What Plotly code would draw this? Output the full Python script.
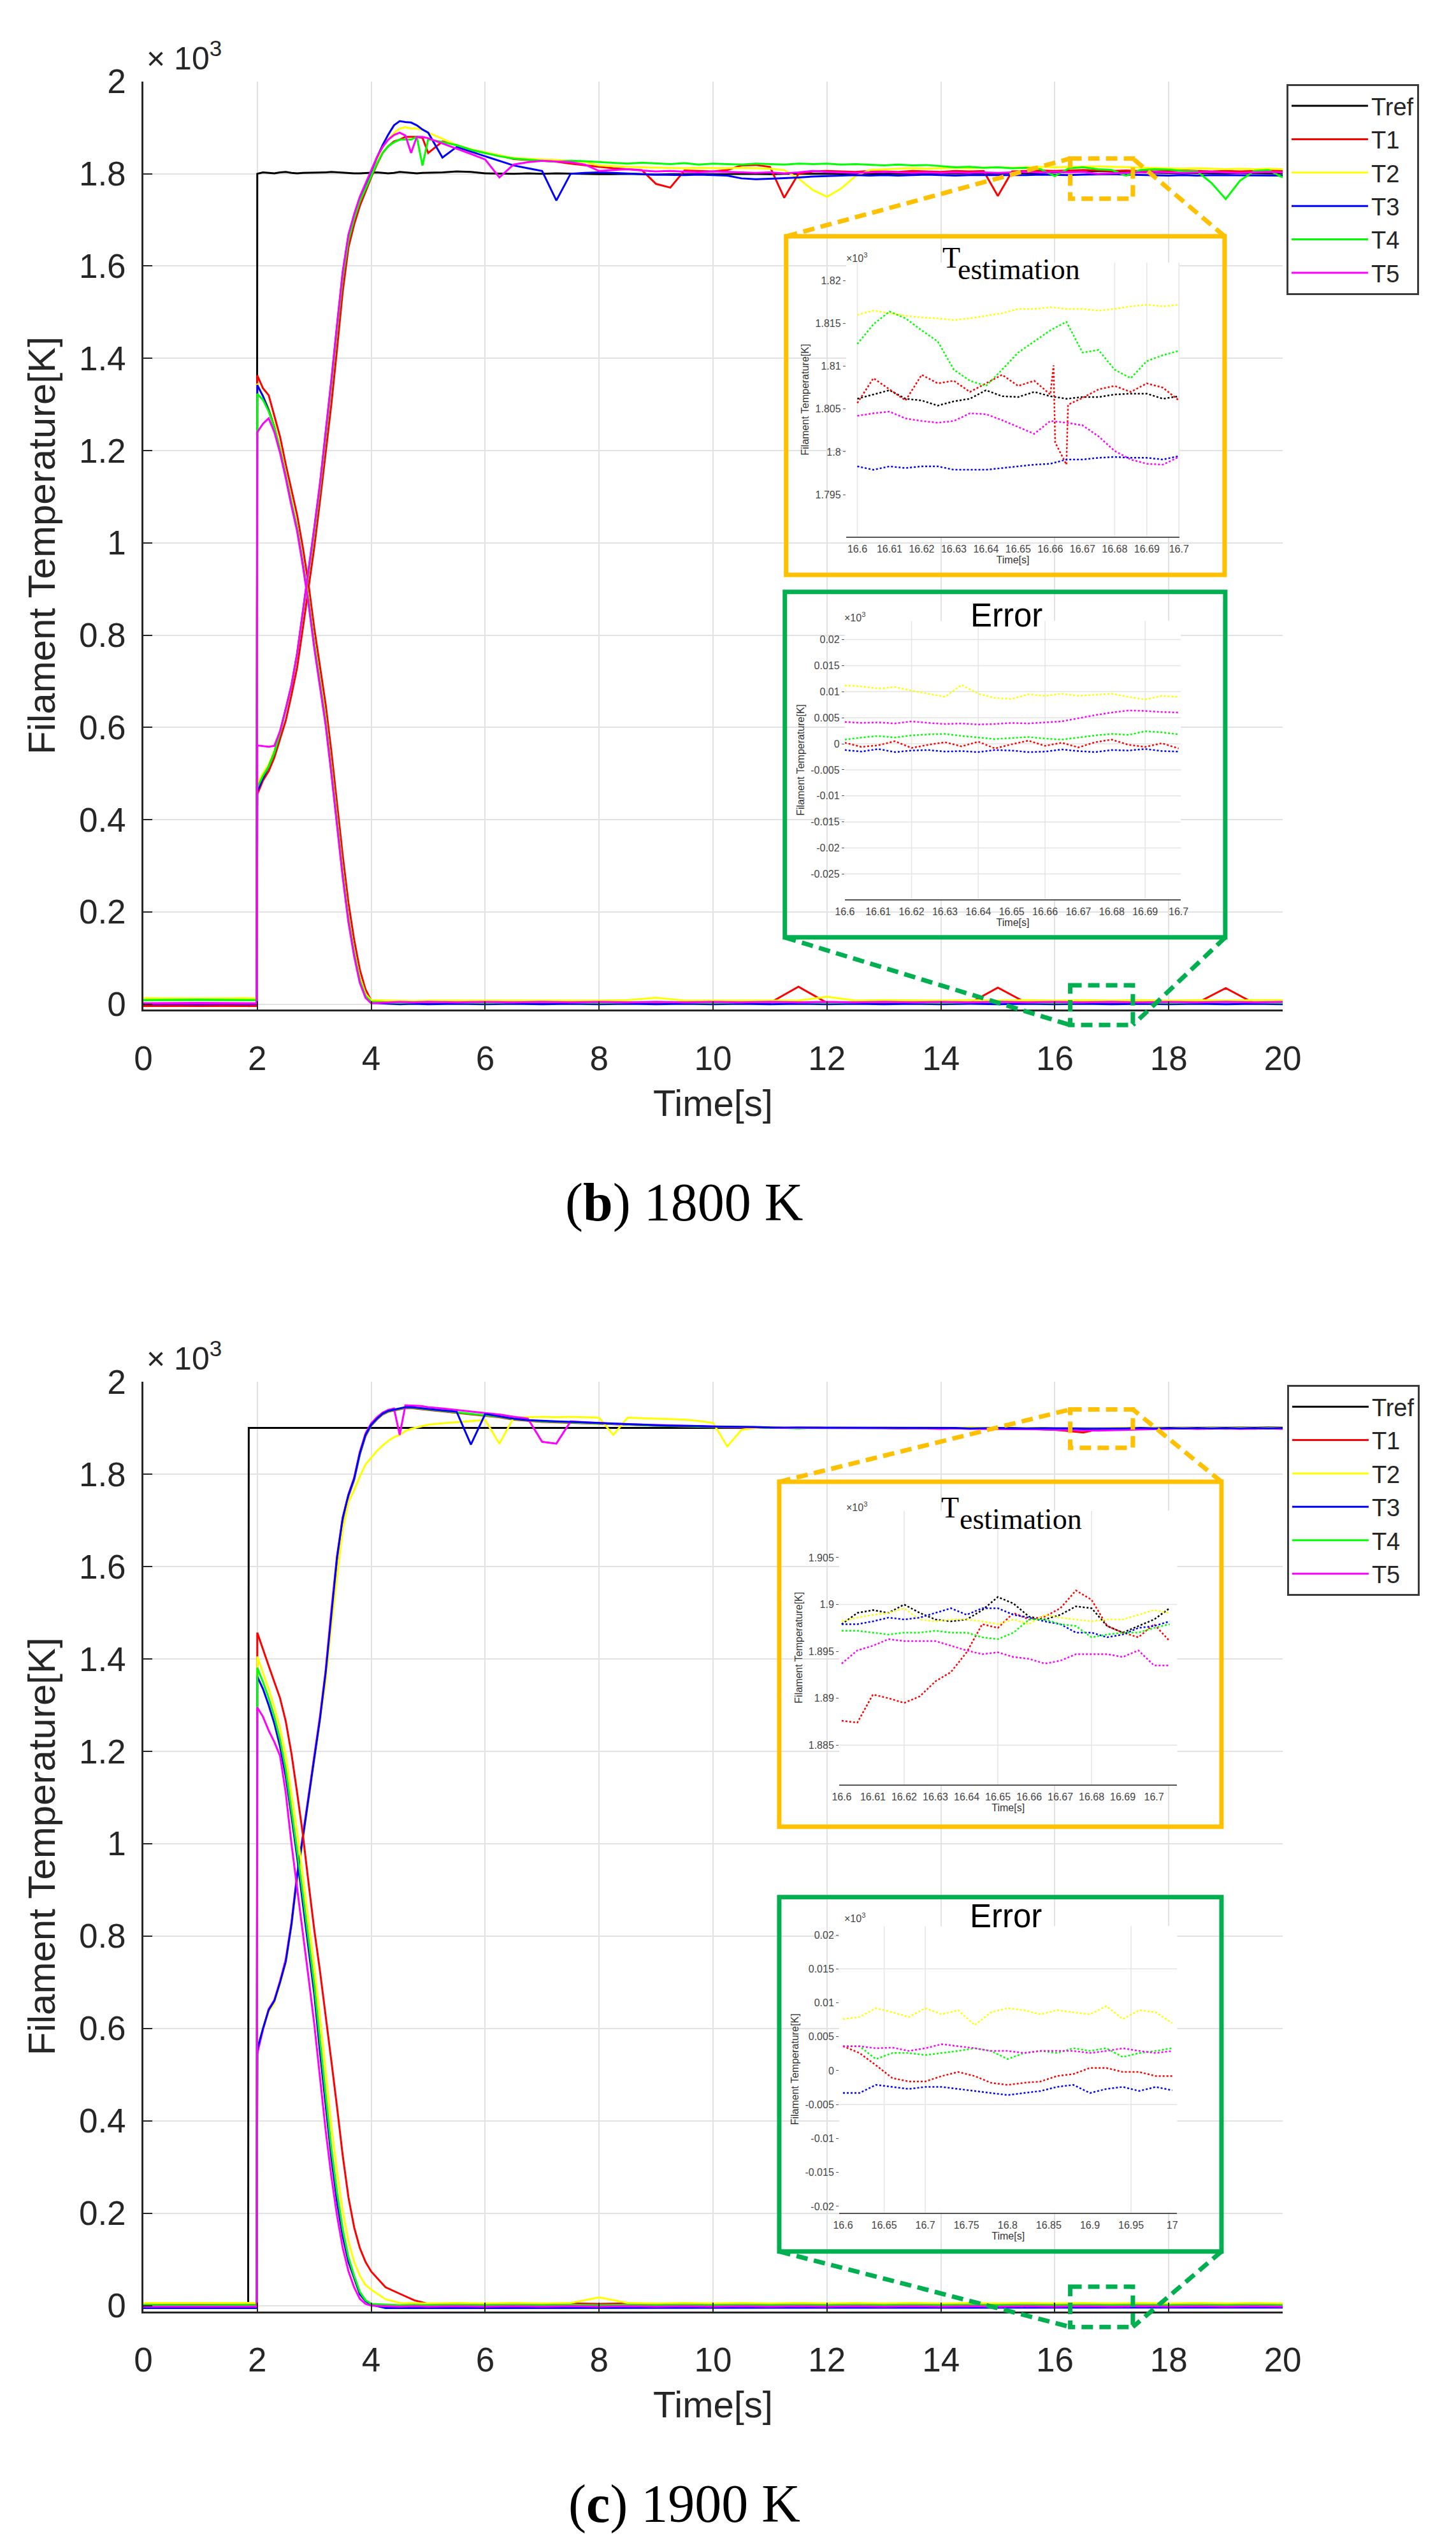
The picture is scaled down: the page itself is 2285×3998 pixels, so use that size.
import plotly.graph_objects as go

W, H = 2285, 3998

# ---------------------------------------------------------------- data
# main time axis [s]
t_main = [0, 1.0, 1.84, 1.85, 1.99,
          2.0, 2.1, 2.2, 2.3, 2.4, 2.5, 2.6, 2.7, 2.8, 2.9,
          3.0, 3.1, 3.2, 3.3, 3.4, 3.5, 3.6, 3.7, 3.8, 3.9,
          4.0, 4.1, 4.2, 4.3, 4.4, 4.5, 4.6, 4.7, 4.8, 4.9, 5.0,
          5.25, 5.5, 5.75, 6.0, 6.25, 6.5, 6.75, 7.0, 7.25, 7.5, 7.75, 8.0,
          8.25, 8.5, 8.75, 9.0, 9.25, 9.5, 9.75, 10.0, 10.25, 10.5, 10.75, 11.0,
          11.25, 11.5, 11.75, 12.0, 12.25, 12.5, 12.75, 13.0, 13.25, 13.5, 13.75, 14.0,
          14.25, 14.5, 14.75, 15.0, 15.25, 15.5, 15.75, 16.0, 16.25, 16.5, 16.75, 17.0,
          17.25, 17.5, 17.75, 18.0, 18.25, 18.5, 18.75, 19.0, 19.25, 19.5, 19.75, 20.0]

# time axis of the error curves [s]
t_err = [0, 1.0, 1.84, 1.85, 1.99,
         2.0, 2.1, 2.2, 2.3, 2.4, 2.5, 2.6, 2.7, 2.8, 2.9,
         3.0, 3.1, 3.2, 3.3, 3.4, 3.5, 3.6, 3.7, 3.8, 3.9,
         4.0, 4.25, 4.5, 4.75, 5.0,
         5.5, 6.0, 6.5, 7.0, 7.5, 8.0, 8.5, 9.0, 9.5, 10.0,
         10.5, 11.0, 11.5, 12.0, 12.5, 13.0, 13.5, 14.0, 14.5, 15.0,
         15.5, 16.0, 16.5, 17.0, 17.5, 18.0, 18.5, 19.0, 19.5, 20.0]

# (b) 1800 K, temperatures [K]
b_tref = [0, 0, 0, 0, 0,
          1800, 1803, 1802, 1801, 1803, 1804, 1802, 1801, 1802, 1802,
          1803, 1802, 1803, 1804, 1803, 1803, 1802, 1801, 1801, 1802,
          1802, 1803, 1802, 1801, 1802, 1804, 1803, 1802, 1801, 1802, 1802,
          1803, 1805, 1804, 1801, 1800, 1800, 1801, 1800, 1801, 1800, 1800, 1799,
          1799, 1800, 1799, 1798, 1799, 1799, 1798, 1798, 1799, 1800, 1799, 1799,
          1800, 1800, 1799, 1799, 1800, 1801, 1800, 1800, 1801, 1800, 1800, 1801,
          1801, 1800, 1801, 1801, 1802, 1801, 1802, 1803, 1804, 1805, 1806, 1805,
          1804, 1803, 1802, 1802, 1801, 1802, 1801, 1801, 1802, 1801, 1801, 1801]
b_t1 = [-4, -3, -4, -4, -4,
        455, 485, 505, 535, 575, 615, 670, 730, 815, 905,
        990, 1090, 1195, 1300, 1420, 1545, 1640, 1690, 1730, 1762,
        1792, 1820, 1845, 1860, 1870, 1874, 1880, 1880, 1880, 1878, 1845,
        1870, 1862, 1852, 1845, 1840, 1832, 1830, 1828, 1826, 1822, 1818, 1815,
        1812, 1810, 1808, 1778, 1770, 1807, 1806, 1805, 1808, 1818, 1819, 1815,
        1748, 1800, 1805, 1806, 1805, 1804, 1806, 1805, 1804, 1806, 1805, 1804,
        1806, 1805, 1806, 1752, 1805, 1806, 1807, 1806, 1807, 1808, 1807, 1806,
        1807, 1806, 1805, 1806, 1807, 1806, 1805, 1806, 1805, 1806, 1807, 1806]
b_t2 = [13, 12, 13, 12, 13,
        479, 500, 520, 550, 592, 640, 692, 760, 848, 932,
        1025, 1120, 1230, 1345, 1465, 1580, 1660, 1706, 1745, 1773,
        1802, 1832, 1857, 1875, 1888, 1898, 1901, 1898, 1898, 1895, 1889,
        1876, 1862, 1853, 1846, 1840, 1834, 1832, 1831, 1830, 1828, 1825, 1818,
        1816, 1815, 1814, 1813, 1813, 1812, 1813, 1812, 1812, 1813, 1812, 1811,
        1808, 1790, 1765, 1750, 1768, 1795, 1808, 1810, 1811, 1812, 1811, 1812,
        1813, 1812, 1813, 1814, 1813, 1814, 1815, 1814, 1815, 1816, 1816, 1815,
        1814, 1813, 1812, 1812, 1811, 1812, 1811, 1810, 1811, 1810, 1811, 1810]
b_t3 = [1, 0, 1, 0, 1,
        461, 490, 515, 545, 590, 640, 690, 760, 850, 935,
        1030, 1125, 1235, 1350, 1470, 1585, 1665, 1710, 1748, 1775,
        1805, 1835, 1862, 1885, 1905, 1914, 1912, 1911, 1905, 1896, 1889,
        1835, 1858, 1848, 1837, 1828, 1818, 1812, 1806, 1742, 1800, 1802, 1803,
        1802, 1800, 1799, 1798, 1797, 1797, 1798, 1797, 1796, 1790, 1788, 1789,
        1790, 1792, 1794, 1795, 1796, 1797, 1796, 1797, 1796, 1797, 1798, 1797,
        1796, 1797, 1797, 1796, 1797, 1797, 1798, 1797, 1797, 1798, 1799, 1799,
        1798, 1797, 1797, 1796, 1797, 1796, 1797, 1797, 1796, 1797, 1797, 1796]
b_t4 = [9, 10, 9, 9, 9,
        470, 495, 515, 545, 588, 638, 690, 758, 845, 930,
        1022, 1118, 1228, 1340, 1460, 1575, 1655, 1702, 1740, 1768,
        1795, 1822, 1845, 1860, 1868, 1874, 1874, 1874, 1880, 1818, 1875,
        1868, 1862, 1852, 1845, 1838, 1833, 1830, 1828, 1826, 1828, 1827, 1825,
        1823, 1822, 1824, 1822, 1821, 1823, 1820, 1822, 1821, 1820, 1822, 1821,
        1820, 1822, 1821, 1822, 1820, 1821, 1819, 1818, 1820, 1818, 1819, 1817,
        1814, 1815, 1813, 1814, 1812, 1813, 1810, 1795, 1812, 1814, 1810, 1808,
        1796, 1808, 1810, 1809, 1806, 1805, 1780, 1745, 1785, 1806, 1808, 1792]
b_t5 = [2, 3, 2, 2, 2,
        561, 560, 558, 560, 592, 640, 692, 760, 850, 938,
        1032, 1128, 1238, 1352, 1472, 1588, 1668, 1712, 1750, 1778,
        1808, 1836, 1858, 1874, 1884, 1889, 1883, 1845, 1880, 1880, 1877,
        1866, 1855, 1843, 1831, 1792, 1820, 1825, 1828, 1826, 1825, 1820, 1806,
        1808, 1810, 1807, 1805, 1806, 1804, 1803, 1805, 1804, 1803, 1802, 1803,
        1801, 1803, 1806, 1804, 1803, 1802, 1803, 1804, 1803, 1802, 1803, 1802,
        1803, 1802, 1803, 1802, 1803, 1804, 1803, 1804, 1803, 1804, 1800, 1801,
        1802, 1803, 1804, 1803, 1802, 1803, 1804, 1803, 1802, 1803, 1804, 1803]

# (b) 1800 K, errors [K]
b_e1 = [-3, -4, -3, -4, -3,
        1363, 1335, 1320, 1275, 1230, 1170, 1115, 1060, 990, 910,
        815, 730, 650, 548, 435, 322, 220, 140, 75, 32,
        8, 3, 2, 3, 2,
        2, 3, 2, 3, 2, 3, 2, 3, 2, 3,
        2, 3, 38, 3, 2, 3, 2, 3, 2, 36,
        3, 2, 3, 2, 3, 2, 3, 35, 2, 3]
b_e2 = [13, 12, 13, 12, 13,
        1345, 1320, 1292, 1255, 1207, 1150, 1090, 1035, 960, 880,
        785, 700, 620, 515, 400, 290, 190, 115, 58, 22,
        9, 8, 8, 7, 8,
        8, 7, 8, 8, 7, 8, 9, 14, 8, 8,
        8, 9, 8, 16, 8, 9, 8, 8, 9, 8,
        9, 8, 9, 8, 9, 8, 9, 8, 9, 9]
b_e3 = [0, 1, 0, 0, 1,
        1342, 1318, 1288, 1250, 1200, 1145, 1085, 1030, 955, 872,
        778, 692, 610, 505, 390, 280, 182, 108, 50, 17,
        3, 1, 0, 1, 0,
        1, 0, 1, 0, 1, 0, 1, 0, 1, 0,
        1, 0, 1, 0, 1, 0, 1, 0, 1, 0,
        1, 0, 1, 0, 1, 0, 1, 0, 1, 0]
b_e4 = [9, 9, 10, 9, 9,
        1323, 1310, 1285, 1250, 1202, 1147, 1088, 1032, 957, 876,
        782, 696, 615, 510, 395, 285, 186, 112, 52, 18,
        5, 4, 3, 4, 5,
        4, 3, 4, 5, 4, 3, 4, 5, 4, 3,
        4, 5, 4, 3, 4, 5, 4, 3, 4, 5,
        4, 3, 4, 5, 4, 3, 4, 5, 4, 3]
b_e5 = [2, 2, 2, 2, 2,
        1240, 1258, 1270, 1240, 1195, 1140, 1080, 1025, 950, 868,
        772, 688, 605, 500, 385, 275, 178, 104, 46, 14,
        2, 4, 5, 4, 5,
        4, 5, 4, 5, 4, 5, 4, 5, 4, 5,
        4, 5, 4, 5, 4, 5, 4, 5, 4, 5,
        4, 5, 4, 5, 4, 5, 4, 5, 4, 5]

# (c) 1900 K, temperatures [K]
c_tref = [0, 0, 0, 1900, 1900,
          1900, 1901, 1900, 1901, 1900, 1901, 1901, 1900, 1901, 1900,
          1901, 1900, 1901, 1900, 1901, 1900, 1900, 1901, 1900, 1901,
          1900, 1901, 1900, 1901, 1900, 1901, 1900, 1901, 1900, 1901, 1900,
          1901, 1900, 1901, 1900, 1900, 1901, 1900, 1901, 1900, 1900, 1901, 1900,
          1900, 1901, 1900, 1900, 1901, 1900, 1900, 1901, 1900, 1900, 1901, 1900,
          1900, 1901, 1900, 1900, 1901, 1900, 1900, 1901, 1900, 1900, 1901, 1900,
          1900, 1901, 1900, 1900, 1901, 1900, 1900, 1899, 1899, 1899, 1898, 1899,
          1900, 1900, 1901, 1900, 1900, 1901, 1900, 1900, 1901, 1900, 1900, 1901]
c_t1 = [4, 4, 4, 4, 4,
        552, 598, 638, 658, 698, 743, 822, 926, 1010, 1097,
        1186, 1266, 1366, 1495, 1615, 1700, 1752, 1787, 1842, 1882,
        1905, 1918, 1929, 1935, 1938, 1941, 1943, 1943, 1942, 1941, 1939,
        1936, 1933, 1930, 1927, 1923, 1918, 1915, 1913, 1912, 1911, 1910, 1908,
        1907, 1906, 1905, 1904, 1904, 1903, 1903, 1902, 1902, 1901, 1901, 1900,
        1900, 1900, 1901, 1900, 1900, 1901, 1900, 1900, 1899, 1900, 1900, 1899,
        1900, 1899, 1900, 1899, 1899, 1898, 1897, 1896, 1893, 1890, 1897, 1899,
        1899, 1900, 1899, 1900, 1899, 1900, 1899, 1900, 1899, 1900, 1899, 1900]
c_t2 = [6, 6, 6, 6, 6,
        550, 598, 636, 655, 695, 740, 818, 920, 1005, 1090,
        1178, 1258, 1350, 1470, 1580, 1680, 1740, 1765, 1795, 1821,
        1835, 1850, 1862, 1872, 1880, 1885, 1893, 1898, 1901, 1904, 1907,
        1910, 1912, 1915, 1917, 1866, 1922, 1923, 1924, 1923, 1924, 1923, 1922,
        1885, 1922, 1921, 1920, 1920, 1918, 1915, 1911, 1860, 1896, 1900, 1902,
        1901, 1900, 1901, 1900, 1901, 1900, 1900, 1901, 1900, 1900, 1901, 1900,
        1900, 1901, 1900, 1900, 1899, 1900, 1899, 1899, 1898, 1898, 1899, 1899,
        1900, 1901, 1900, 1901, 1900, 1901, 1900, 1901, 1900, 1901, 1900, 1901]
c_t3 = [-5, -5, -5, -5, -5,
        555, 600, 640, 660, 700, 745, 825, 930, 1013, 1100,
        1190, 1270, 1370, 1500, 1620, 1705, 1755, 1790, 1845, 1885,
        1907, 1920, 1931, 1937, 1940, 1943, 1945, 1945, 1944, 1943, 1941,
        1938, 1935, 1864, 1930, 1925, 1920, 1917, 1915, 1914, 1913, 1912, 1910,
        1909, 1908, 1907, 1906, 1905, 1905, 1904, 1903, 1903, 1902, 1902, 1901,
        1901, 1900, 1901, 1900, 1900, 1901, 1900, 1900, 1901, 1900, 1900, 1900,
        1900, 1899, 1900, 1900, 1899, 1899, 1900, 1899, 1899, 1898, 1898, 1899,
        1899, 1900, 1899, 1900, 1899, 1900, 1899, 1900, 1899, 1900, 1899, 1900]
c_t4 = [1, 2, 1, 2, 1,
        553, 599, 639, 659, 699, 744, 823, 928, 1011, 1098,
        1188, 1268, 1368, 1498, 1618, 1703, 1754, 1789, 1843, 1884,
        1906, 1919, 1930, 1936, 1939, 1942, 1944, 1944, 1943, 1942, 1940,
        1937, 1934, 1931, 1928, 1924, 1919, 1916, 1914, 1913, 1912, 1911, 1909,
        1908, 1907, 1906, 1905, 1904, 1904, 1903, 1902, 1902, 1901, 1901, 1900,
        1900, 1899, 1900, 1900, 1899, 1900, 1899, 1900, 1899, 1899, 1900, 1899,
        1899, 1898, 1899, 1898, 1898, 1899, 1898, 1897, 1897, 1897, 1898, 1898,
        1899, 1898, 1899, 1898, 1899, 1898, 1899, 1898, 1899, 1898, 1899, 1898]
c_t5 = [-2, -2, -2, -2, -2,
        545, 598, 642, 662, 703, 750, 830, 935, 1018, 1105,
        1195, 1275, 1375, 1505, 1622, 1706, 1756, 1792, 1848, 1888,
        1910, 1923, 1933, 1939, 1942, 1885, 1949, 1949, 1948, 1947, 1945,
        1942, 1939, 1936, 1933, 1929, 1924, 1920, 1870, 1866, 1914, 1912, 1910,
        1909, 1908, 1907, 1906, 1905, 1904, 1904, 1903, 1902, 1902, 1901, 1901,
        1900, 1901, 1900, 1900, 1899, 1900, 1899, 1899, 1900, 1899, 1899, 1898,
        1899, 1898, 1898, 1897, 1898, 1897, 1897, 1896, 1896, 1895, 1894, 1895,
        1896, 1897, 1898, 1898, 1899, 1898, 1899, 1899, 1898, 1899, 1899, 1898]

# (c) 1900 K, errors [K]
c_e1 = [4, 4, 4, 4, 4,
        1457, 1420, 1385, 1350, 1315, 1265, 1195, 1110, 1020, 915,
        814, 725, 630, 530, 430, 325, 235, 170, 125, 95,
        74, 40, 26, 12, 4,
        5, 4, 5, 4, 5, 4, 5, 4, 5, 4,
        5, 4, 5, 4, 5, 4, 5, 4, 5, 4,
        5, 4, 5, 4, 5, 4, 5, 4, 5, 4]
c_e2 = [6, 6, 6, 6, 6,
        1405, 1370, 1335, 1295, 1250, 1190, 1110, 1025, 930, 830,
        735, 625, 505, 390, 290, 205, 140, 95, 65, 45,
        35, 14, 6, 5, 5,
        6, 5, 6, 5, 6, 18, 6, 5, 6, 5,
        6, 5, 6, 5, 6, 5, 6, 5, 6, 5,
        6, 5, 6, 5, 6, 5, 6, 5, 6, 5]
c_e3 = [-5, -5, -5, -5, -5,
        1362, 1335, 1300, 1260, 1210, 1145, 1060, 970, 870, 770,
        675, 550, 430, 320, 225, 150, 95, 60, 25, 10,
        2, -5, -5, -5, -5,
        -5, -4, -5, -4, -5, -4, -5, -4, -5, -4,
        -5, -4, -5, -4, -5, -4, -5, -4, -5, -4,
        -5, -4, -5, -4, -5, -4, -5, -4, -5, -4]
c_e4 = [2, 1, 2, 1, 2,
        1381, 1350, 1315, 1275, 1225, 1160, 1075, 985, 890, 790,
        695, 575, 455, 340, 245, 165, 105, 65, 30, 12,
        4, 2, 1, 2, 1,
        2, 1, 2, 1, 2, 1, 2, 1, 2, 1,
        2, 1, 2, 1, 2, 1, 2, 1, 2, 1,
        2, 1, 2, 1, 2, 1, 2, 1, 2, 1]
c_e5 = [-2, -2, -2, -2, -2,
        1295, 1275, 1245, 1220, 1190, 1110, 1000, 905, 810, 710,
        610, 495, 380, 280, 195, 125, 75, 40, 15, 4,
        0, -1, -2, -1, -2,
        -1, -2, -1, -2, -1, -2, -1, -2, -1, -2,
        -1, -2, -1, -2, -1, -2, -1, -2, -1, -2,
        -1, -2, -1, -2, -1, -2, -1, -2, -1, -2]

# (b) inset "T estimation", 16.6 .. 16.7 s
bi_t = [16.6, 16.605, 16.61, 16.615, 16.62, 16.625, 16.63, 16.635, 16.64, 16.645, 16.65,
        16.655, 16.66, 16.665, 16.67, 16.675, 16.68, 16.685, 16.69, 16.695, 16.7]
bi_t_red = [16.6, 16.605, 16.61, 16.615, 16.62, 16.625, 16.63, 16.635, 16.64, 16.645, 16.65,
            16.655, 16.66, 16.661, 16.6615, 16.663, 16.665, 16.6655, 16.67, 16.675, 16.68,
            16.685, 16.69, 16.695, 16.7]
bi_tref = [1806.2, 1806.7, 1807.2, 1806.2, 1806.0, 1805.4, 1805.9, 1806.2, 1807.2, 1806.5, 1806.4,
           1807.0, 1806.5, 1806.2, 1806.4, 1806.4, 1806.7, 1806.8, 1806.8, 1806.2, 1806.5]
bi_t1 = [1805.7, 1808.6, 1807.3, 1806.0, 1809.0, 1808.0, 1808.3, 1807.0, 1808.0, 1809.0, 1807.7,
         1808.3, 1806.7, 1810.1, 1801.1, 1800.0, 1798.5, 1805.5, 1806.3, 1807.3, 1807.7,
         1807.0, 1808.0, 1807.5, 1806.0]
bi_t2 = [1816.0, 1816.5, 1816.2, 1815.9, 1815.7, 1815.6, 1815.4, 1815.6, 1815.9, 1816.2, 1816.7,
         1816.7, 1816.9, 1816.7, 1816.7, 1816.5, 1816.7, 1817.0, 1817.2, 1817.0, 1817.2]
bi_t3 = [1798.3, 1797.9, 1798.3, 1798.1, 1798.3, 1798.3, 1797.9, 1797.9, 1797.9, 1798.1, 1798.3,
         1798.5, 1798.6, 1799.1, 1799.1, 1799.3, 1799.4, 1799.3, 1799.3, 1799.1, 1799.5]
bi_t4 = [1812.6, 1814.9, 1816.4, 1815.6, 1814.2, 1812.9, 1809.6, 1808.3, 1807.7, 1809.6, 1811.6,
         1812.9, 1814.2, 1815.2, 1811.6, 1811.9, 1809.6, 1808.6, 1810.6, 1811.3, 1811.8]
bi_t5 = [1804.2, 1804.5, 1804.7, 1803.9, 1803.6, 1803.4, 1803.6, 1804.5, 1804.4, 1803.7, 1802.9,
         1802.1, 1803.6, 1803.4, 1803.1, 1801.8, 1800.1, 1799.1, 1798.6, 1798.5, 1799.4]

# (b) inset "Error", 16.6 .. 16.7 s  [K]
be_e1 = [0.2, -0.6, -0.3, 0.5, -0.8, -0.2, 0.3, -0.5, 0.4, -0.9, -0.1,
         0.6, -0.4, 0.2, -0.7, 0.3, 0.8, -0.2, -0.6, 0.1, -0.9]
be_e2 = [11.2, 11.0, 10.6, 10.9, 10.2, 9.6, 9.0, 11.3, 9.6, 8.8, 8.6,
         9.5, 9.2, 9.6, 9.2, 9.4, 9.6, 9.0, 8.5, 9.2, 9.0]
be_e3 = [-1.2, -1.5, -1.0, -1.6, -1.3, -1.2, -1.5, -1.4, -1.6, -1.2, -1.3,
         -1.6, -1.5, -1.1, -1.4, -1.6, -1.2, -1.3, -1.0, -1.4, -1.5]
be_e4 = [0.8, 1.2, 1.5, 1.2, 1.6, 1.8, 1.9, 1.5, 1.2, 0.9, 1.1,
         1.3, 1.0, 0.8, 1.2, 1.6, 1.9, 1.7, 2.4, 2.2, 1.8]
be_e5 = [4.2, 4.0, 4.1, 3.9, 4.3, 4.0, 3.8, 3.9, 3.7, 3.8, 4.0,
         3.9, 4.1, 4.3, 4.9, 5.5, 6.0, 6.4, 6.3, 6.1, 6.0]

# (c) inset "T estimation", 16.6 .. 16.705 s
ci_t = [16.6, 16.605, 16.61, 16.615, 16.62, 16.625, 16.63, 16.635, 16.64, 16.645, 16.65,
        16.655, 16.66, 16.665, 16.67, 16.675, 16.68, 16.685, 16.69, 16.695, 16.7, 16.705]
ci_tref = [1897.9, 1899.1, 1899.4, 1899.1, 1900.0, 1899.1, 1898.4, 1898.2, 1898.4, 1899.4, 1900.8,
           1900.1, 1898.7, 1898.4, 1898.9, 1899.8, 1899.6, 1897.7, 1897.0, 1897.7, 1898.4, 1899.6]
ci_t1 = [1887.6, 1887.4, 1890.4, 1890.0, 1889.5, 1890.2, 1891.8, 1892.8, 1894.9, 1897.9, 1897.5,
         1899.1, 1898.4, 1898.7, 1899.6, 1901.5, 1900.5, 1897.7, 1897.0, 1896.5, 1897.9, 1896.1]
ci_t2 = [1898.2, 1898.6, 1898.9, 1899.1, 1899.6, 1898.4, 1898.2, 1898.4, 1898.4, 1898.2, 1897.9,
         1898.4, 1897.9, 1898.9, 1898.6, 1898.4, 1898.2, 1898.4, 1898.4, 1898.9, 1899.4, 1899.1]
ci_t3 = [1897.9, 1897.9, 1898.2, 1898.6, 1898.4, 1898.6, 1899.1, 1899.6, 1898.9, 1899.6, 1899.6,
         1898.9, 1898.6, 1898.2, 1897.9, 1897.0, 1897.0, 1896.5, 1896.8, 1897.5, 1897.7, 1898.2]
ci_t4 = [1897.2, 1897.2, 1897.0, 1896.8, 1897.0, 1897.0, 1897.2, 1897.0, 1897.0, 1896.5, 1896.3,
         1897.0, 1898.4, 1898.4, 1897.9, 1897.7, 1896.5, 1896.8, 1897.0, 1897.0, 1897.5, 1897.9]
ci_t5 = [1893.7, 1895.1, 1895.6, 1896.3, 1896.1, 1896.1, 1896.1, 1895.6, 1895.1, 1894.7, 1894.9,
         1894.4, 1894.2, 1893.7, 1894.0, 1894.7, 1894.7, 1894.7, 1894.4, 1895.1, 1893.5, 1893.5]

# (c) inset "Error", 16.6 .. 17 s  [K]
ce_t = [16.6, 16.62, 16.64, 16.66, 16.68, 16.7, 16.72, 16.74, 16.76, 16.78, 16.8,
        16.82, 16.84, 16.86, 16.88, 16.9, 16.92, 16.94, 16.96, 16.98, 17.0]
ce_e1 = [3.6, 2.6, 0.8, -1.1, -1.6, -1.6, -0.8, -0.2, -0.8, -1.8, -2.1,
         -1.8, -1.6, -0.8, -0.5, 0.4, 0.4, -0.2, -0.2, -0.8, -0.8]
ce_e2 = [7.6, 7.9, 9.2, 8.6, 7.9, 9.2, 8.3, 8.9, 6.7, 8.6, 9.2,
         8.9, 8.3, 8.9, 8.6, 8.3, 9.5, 7.6, 8.9, 8.6, 7.0]
ce_e3 = [-3.3, -3.3, -2.1, -2.4, -2.7, -2.4, -2.4, -2.7, -3.0, -3.3, -3.6,
         -3.3, -3.0, -2.4, -2.1, -3.3, -2.7, -2.4, -3.0, -2.4, -2.9]
ce_e4 = [3.6, 3.6, 1.7, 2.6, 2.6, 2.3, 2.6, 2.9, 3.3, 2.9, 1.7,
         2.6, 2.9, 2.6, 3.3, 2.9, 3.3, 2.0, 2.6, 2.9, 3.3]
ce_e5 = [3.6, 3.6, 3.3, 3.4, 2.9, 3.3, 3.9, 3.6, 3.3, 2.9, 2.9,
         2.6, 2.9, 2.9, 2.9, 2.6, 2.9, 3.3, 2.9, 2.6, 2.9]

# tick labels
main_xticks = [0, 2, 4, 6, 8, 10, 12, 14, 16, 18, 20]
main_yticks = [0, 200, 400, 600, 800, 1000, 1200, 1400, 1600, 1800, 2000]
main_ytext = ['0', '0.2', '0.4', '0.6', '0.8', '1', '1.2', '1.4', '1.6', '1.8', '2']
in_xticks = [16.6, 16.61, 16.62, 16.63, 16.64, 16.65, 16.66, 16.67, 16.68, 16.69, 16.7]
in_xtext = ['16.6', '16.61', '16.62', '16.63', '16.64', '16.65', '16.66', '16.67', '16.68', '16.69', '16.7']
ce_xticks = [16.6, 16.65, 16.7, 16.75, 16.8, 16.85, 16.9, 16.95, 17.0]
ce_xtext = ['16.6', '16.65', '16.7', '16.75', '16.8', '16.85', '16.9', '16.95', '17']
bi_yticks = [1795, 1800, 1805, 1810, 1815, 1820]
bi_ytext = ['1.795', '1.8', '1.805', '1.81', '1.815', '1.82']
ci_yticks = [1885, 1890, 1895, 1900, 1905]
ci_ytext = ['1.885', '1.89', '1.895', '1.9', '1.905']
err_yticks = [-25, -20, -15, -10, -5, 0, 5, 10, 15, 20]
err_ytext = ['-0.025', '-0.02', '-0.015', '-0.01', '-0.005', '0', '0.005', '0.01', '0.015', '0.02']

# zoomed windows on the main axes (time [s], temperature [K])
zoom_t = [16.27, 17.37]
zoom_b_temp = [1746, 1833]
zoom_b_err = [-45, 41]
zoom_c_temp = [1857, 1940]
zoom_c_err = [-46, 41]

for xs, ys in [(t_main, s) for s in (b_tref, b_t1, b_t2, b_t3, b_t4, b_t5,
                                      c_tref, c_t1, c_t2, c_t3, c_t4, c_t5)] + \
              [(t_err, s) for s in (b_e1, b_e2, b_e3, b_e4, b_e5, c_e1, c_e2, c_e3, c_e4, c_e5)]:
    assert len(xs) == len(ys), (len(xs), len(ys))

# ---------------------------------------------------------------- style
SANS = 'Liberation Sans'
SERIF = 'Liberation Serif'
INK = '#262626'
GRID = '#E2E2E2'
ORANGE = '#FFC000'
BOXGREEN = '#00B050'
C_TREF, C_T1, C_T2, C_T3, C_T4, C_T5 = '#000000', '#FF0000', '#FFFF00', '#0000FF', '#00FF00', '#FF00FF'

T_RANGE = [0, 20]
Y_RANGE = [-12, 2000]
PANEL_B = dict(left=205, right=2029, top=92, bottom=1567)
PANEL_C = dict(left=205, right=2029, top=2158, bottom=3635)


def span_x(a, b):
    return [a / W, b / W]


def span_y(top, bottom):
    return [1 - bottom / H, 1 - top / H]


def pxx(p):
    return p / W


def pxy(p):
    return 1 - p / H


def to_px(panel, t, v):
    x = panel['left'] + (t - T_RANGE[0]) / (T_RANGE[1] - T_RANGE[0]) * (panel['right'] - panel['left'])
    y = panel['bottom'] - (v - Y_RANGE[0]) / (Y_RANGE[1] - Y_RANGE[0]) * (panel['bottom'] - panel['top'])
    return x, y


fig = go.Figure()


def line(x, y, color, xa, ya, name=None, legend=None, rank=None, width=3, dash=None):
    show = name is not None
    fig.add_trace(go.Scatter(
        x=x, y=y, mode='lines', xaxis=xa, yaxis=ya,
        line=dict(color=color, width=width, dash=dash),
        name=name if show else '', showlegend=show,
        legend=legend if legend else 'legend',
        legendrank=rank if rank else 1000,
        hoverinfo='skip'))


# (b) main
b_series = [('Tref', C_TREF, b_tref, None), ('T1', C_T1, b_t1, b_e1), ('T2', C_T2, b_t2, b_e2),
            ('T3', C_T3, b_t3, b_e3), ('T4', C_T4, b_t4, b_e4), ('T5', C_T5, b_t5, b_e5)]
for i, (nm, col, temp, err) in enumerate(b_series):
    line(t_main, temp, col, 'x', 'y', name=nm, legend='legend', rank=i + 1)
    if err is not None:
        line(t_err, err, col, 'x', 'y')

# (c) main: estimates with blue on top of the rise, then errors with magenta last
c_series = {'Tref': (C_TREF, c_tref, None, 1), 'T1': (C_T1, c_t1, c_e1, 2), 'T2': (C_T2, c_t2, c_e2, 3),
            'T3': (C_T3, c_t3, c_e3, 4), 'T4': (C_T4, c_t4, c_e4, 5), 'T5': (C_T5, c_t5, c_e5, 6)}
for nm in ['Tref', 'T1', 'T4', 'T2', 'T5', 'T3']:
    col, temp, err, rk = c_series[nm]
    line(t_main, temp, col, 'x2', 'y2', name=nm, legend='legend2', rank=rk)
for nm in ['T1', 'T2', 'T3', 'T4', 'T5']:
    col, temp, err, rk = c_series[nm]
    line(t_err, err, col, 'x2', 'y2')

# insets
for x, y, col in [(bi_t, bi_tref, C_TREF), (bi_t_red, bi_t1, C_T1), (bi_t, bi_t2, C_T2),
                  (bi_t, bi_t3, C_T3), (bi_t, bi_t4, C_T4), (bi_t, bi_t5, C_T5)]:
    line(x, y, col, 'x3', 'y3', width=2.5, dash='dot')
for y, col in [(be_e1, C_T1), (be_e2, C_T2), (be_e3, C_T3), (be_e4, C_T4), (be_e5, C_T5)]:
    line(bi_t, y, col, 'x4', 'y4', width=2.5, dash='dot')
for y, col in [(ci_tref, C_TREF), (ci_t1, C_T1), (ci_t2, C_T2), (ci_t3, C_T3), (ci_t4, C_T4), (ci_t5, C_T5)]:
    line(ci_t, y, col, 'x5', 'y5', width=2.5, dash='dot')
for y, col in [(ce_e1, C_T1), (ce_e2, C_T2), (ce_e3, C_T3), (ce_e4, C_T4), (ce_e5, C_T5)]:
    line(ce_t, y, col, 'x6', 'y6', width=2.5, dash='dot')


def main_axes(panel, ya, xa):
    xax = dict(domain=span_x(panel['left'], panel['right']), range=T_RANGE, anchor=ya,
               tickmode='array', tickvals=main_xticks, showgrid=True, gridcolor=GRID, gridwidth=2,
               zeroline=False, showline=True, linecolor=INK, linewidth=2.5,
               ticks='inside', ticklen=14, tickwidth=2, tickcolor=INK, ticklabelstandoff=28,
               tickfont=dict(family=SANS, size=53, color=INK),
               title=dict(text='Time[s]', font=dict(family=SANS, size=58, color=INK), standoff=22))
    yax = dict(domain=span_y(panel['top'], panel['bottom']), range=Y_RANGE, anchor=xa,
               tickmode='array', tickvals=main_yticks, ticktext=main_ytext,
               showgrid=True, gridcolor=GRID, gridwidth=2,
               zeroline=False, showline=True, linecolor=INK, linewidth=2.5,
               ticks='inside', ticklen=14, tickwidth=2, tickcolor=INK, ticklabelstandoff=14,
               tickfont=dict(family=SANS, size=53, color=INK),
               title=dict(text='Filament Temperature[K]', font=dict(family=SANS, size=60, color=INK),
                          standoff=18))
    return xax, yax


def inset_axes(area, xr, yr, xtv, xtt, ytv, ytt, ya, xa):
    l, r, t, b = area
    tf = dict(family=SANS, size=16, color='#444444')
    xax = dict(domain=span_x(l, r), range=xr, anchor=ya, tickmode='array', tickvals=xtv, ticktext=xtt,
               showgrid=False, zeroline=False, showline=True, linecolor='#555555', linewidth=2,
               ticks='', tickfont=tf, ticklabelstandoff=4,
               title=dict(text='Time[s]', font=dict(family=SANS, size=16, color='#333333'), standoff=4))
    yax = dict(domain=span_y(t, b), range=yr, anchor=xa, tickmode='array', tickvals=ytv, ticktext=ytt,
               showgrid=False, zeroline=False, showline=False, ticks='outside', ticklen=4,
               tickcolor='#555555', tickfont=tf,
               title=dict(text='Filament Temperature[K]', font=dict(family=SANS, size=16, color='#333333'),
                          standoff=5))
    return xax, yax


xa1, ya1 = main_axes(PANEL_B, 'y', 'x')
xa2, ya2 = main_axes(PANEL_C, 'y2', 'x2')

# inset plot areas in pixels: left, right, top, bottom
BI_AREA = (1330, 1864, 380, 815)
BE_AREA = (1328, 1866, 949, 1391)
CI_AREA = (1319, 1860, 2363, 2798)
CE_AREA = (1319, 1860, 3023, 3478)
BI_X, BI_Y = [16.5965, 16.7002], [1790.1, 1822.1]
BE_X, BE_Y = [16.6, 16.7007], [-29.8, 23.6]
CI_X, CI_Y = [16.5992, 16.7074], [1880.8, 1910.0]
CE_X, CE_Y = [16.5954, 17.006], [-20.9, 21.3]

xa3, ya3 = inset_axes(BI_AREA, BI_X, BI_Y, in_xticks, in_xtext, bi_yticks, bi_ytext, 'y3', 'x3')
xa4, ya4 = inset_axes(BE_AREA, BE_X, BE_Y, in_xticks, in_xtext, err_yticks, err_ytext, 'y4', 'x4')
xa5, ya5 = inset_axes(CI_AREA, CI_X, CI_Y, in_xticks, in_xtext, ci_yticks, ci_ytext, 'y5', 'x5')
xa6, ya6 = inset_axes(CE_AREA, CE_X, CE_Y, ce_xticks, ce_xtext, err_yticks, err_ytext, 'y6', 'x6')

# ---------------------------------------------------------------- shapes
shapes = []


def grid_lines(xa, ya, xr, yr, xs, ys):
    for v in xs:
        shapes.append(dict(type='line', xref=xa, yref=ya, x0=v, x1=v, y0=yr[0], y1=yr[1], layer='below',
                           line=dict(color='#E4E4E4', width=1.5)))
    for v in ys:
        shapes.append(dict(type='line', xref=xa, yref=ya, x0=xr[0], x1=xr[1], y0=v, y1=v, layer='below',
                           line=dict(color='#E4E4E4', width=1.5)))


grid_lines('x3', 'y3', BI_X, BI_Y, [16.6, 16.68, 16.69, 16.7], [])
grid_lines('x4', 'y4', BE_X, BE_Y, [16.62, 16.64, 16.66, 16.69], err_yticks)
grid_lines('x5', 'y5', CI_X, CI_Y, [16.62, 16.65, 16.68], [1885, 1900])
grid_lines('x6', 'y6', CE_X, CE_Y, [16.65, 16.7, 16.95], [15, -5])


def box(l, t, r, b, color):
    shapes.append(dict(type='rect', xref='paper', yref='paper', x0=pxx(l), x1=pxx(r), y0=pxy(b), y1=pxy(t),
                       line=dict(color=color, width=7), layer='above'))


def dashed(x0, y0, x1, y1, color, kind='line'):
    shapes.append(dict(type=kind, xref='paper', yref='paper', x0=pxx(x0), x1=pxx(x1), y0=pxy(y0), y1=pxy(y1),
                       line=dict(color=color, width=7, dash='18px,10px'), layer='above'))


def zoom_callout(panel, vrange, boxpx, color, upper):
    l, t, r, b = boxpx
    x0, ytop = to_px(panel, zoom_t[0], vrange[1])
    x1, ybot = to_px(panel, zoom_t[1], vrange[0])
    dashed(x0, ytop, x1, ybot, color, kind='rect')
    box(l, t, r, b, color)
    if upper:
        dashed(l, t, x0, ytop, color)
        dashed(r, t, x1, ytop, color)
    else:
        dashed(l, b, x0, ybot, color)
        dashed(r, b, x1, ybot, color)


zoom_callout(PANEL_B, zoom_b_temp, (1234, 338, 1936, 876), ORANGE, True)
zoom_callout(PANEL_B, zoom_b_err, (1232, 903, 1937, 1452), BOXGREEN, False)
zoom_callout(PANEL_C, zoom_c_temp, (1223, 2317, 1931, 2865), ORANGE, True)
zoom_callout(PANEL_C, zoom_c_err, (1223, 2977, 1931, 3540), BOXGREEN, False)

# ---------------------------------------------------------------- text
ann = []


def text(s, x, y, size, family=SANS, color=INK, xanchor='left', yanchor='middle'):
    ann.append(dict(text=s, x=pxx(x), y=pxy(y), xref='paper', yref='paper', showarrow=False,
                    xanchor=xanchor, yanchor=yanchor, font=dict(family=family, size=size, color=color)))


text('× 10<sup>3</sup>', 208, 52, 50)
text('× 10<sup>3</sup>', 208, 2117, 50)
text('(<b>b</b>) 1800 K', 1071, 1873, 84, family=SERIF, color='black', xanchor='center')
text('(<b>c</b>) 1900 K', 1071, 3941, 84, family=SERIF, color='black', xanchor='center')
for tx, ty, sx, sy in [(1482, 372, 1507, 390), (1480, 2358, 1510, 2376)]:
    text('T', tx, ty, 46, family=SERIF, color='black')
    text('estimation', sx, sy, 46, family=SERIF, color='black')
text('Error', 1587, 940, 51, color='black', xanchor='center')
text('Error', 1586, 3007, 51, color='black', xanchor='center')
for x, y in [(1328, 372), (1325, 943), (1328, 2356), (1325, 3010)]:
    text('×10<sup>3</sup>', x, y, 16, color='#444444')

legend_style = dict(xanchor='left', yanchor='top', bgcolor='white', bordercolor='#3A3A3A', borderwidth=3,
                    font=dict(family=SANS, size=38, color=INK), itemwidth=120, tracegroupgap=0,
                    traceorder='normal')

fig.update_layout(
    width=W, height=H, margin=dict(l=0, r=0, t=0, b=0),
    paper_bgcolor='white', plot_bgcolor='white',
    xaxis=xa1, yaxis=ya1, xaxis2=xa2, yaxis2=ya2,
    xaxis3=xa3, yaxis3=ya3, xaxis4=xa4, yaxis4=ya4,
    xaxis5=xa5, yaxis5=ya5, xaxis6=xa6, yaxis6=ya6,
    legend=dict(x=pxx(2035), y=pxy(96), **legend_style),
    legend2=dict(x=pxx(2036), y=pxy(2163), **legend_style),
    shapes=shapes, annotations=ann,
)

fig.write_html('out.html')
